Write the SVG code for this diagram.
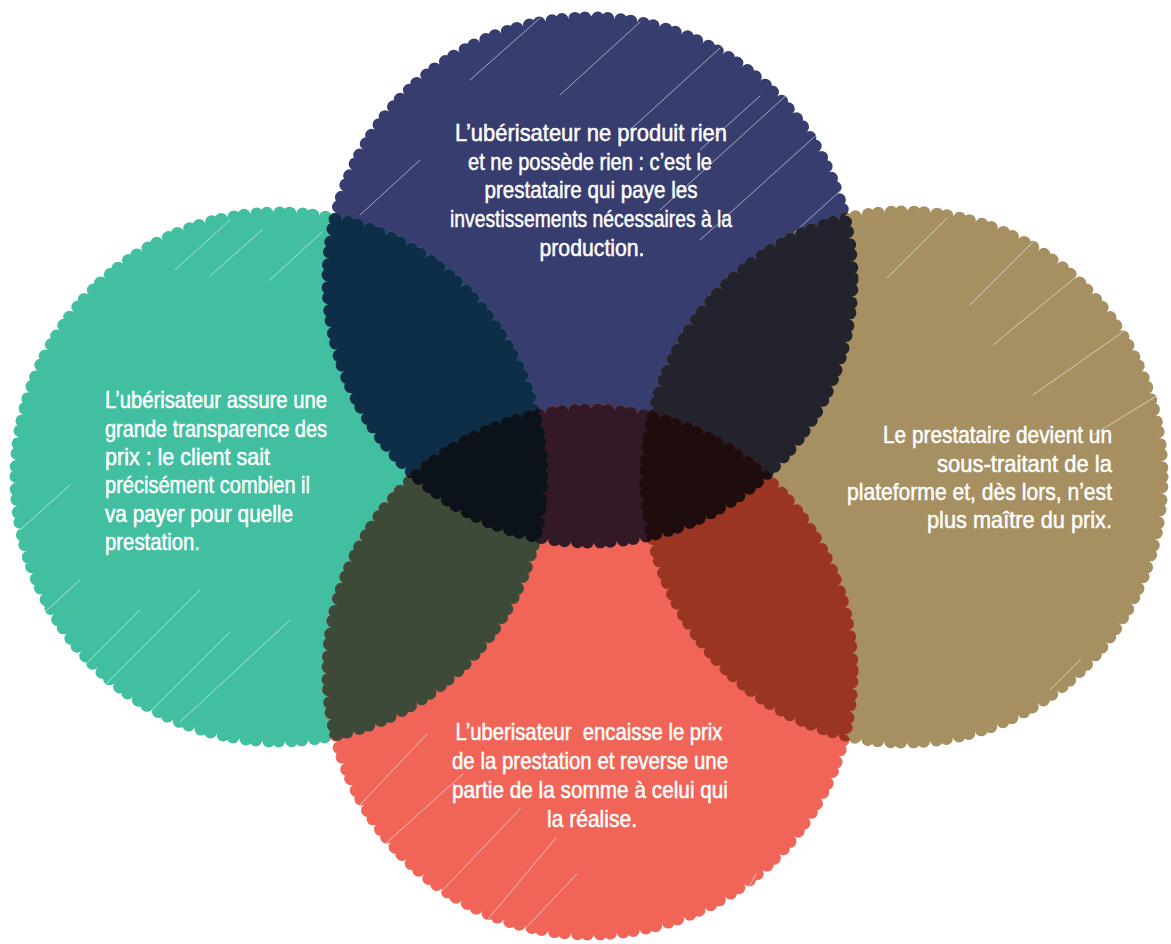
<svg xmlns="http://www.w3.org/2000/svg" width="1171" height="944" viewBox="0 0 1171 944">
<style>
.blob{stroke-width:13;stroke-dasharray:0 10 0 13;stroke-linecap:round}
.mk{fill:#fff;stroke:#fff}
.hl{stroke:#fff;stroke-width:1;stroke-linecap:round;opacity:0.55;fill:none}
.lbl{font-family:"Liberation Sans",Arial,sans-serif;font-size:24px;fill:#fff;stroke:#fff;stroke-width:0.5}
</style>
<defs>
<mask id="mT" maskUnits="userSpaceOnUse" x="0" y="0" width="1171" height="944"><circle class="mk blob" cx="590" cy="280" r="262"/></mask>
<mask id="mL" maskUnits="userSpaceOnUse" x="0" y="0" width="1171" height="944"><ellipse class="mk blob" cx="279" cy="477" rx="263" ry="264"/></mask>
<mask id="mR" maskUnits="userSpaceOnUse" x="0" y="0" width="1171" height="944"><ellipse class="mk blob" cx="904" cy="477" rx="258" ry="265"/></mask>
<mask id="mB" maskUnits="userSpaceOnUse" x="0" y="0" width="1171" height="944"><circle class="mk blob" cx="590" cy="672" r="262"/></mask>
</defs>

<g id="node-top">
<circle class="blob" cx="590" cy="280" r="262" fill="#383D6F" stroke="#383D6F"/>
<g class="hl">
<line x1="470" y1="80" x2="540" y2="18"/>
<line x1="560" y1="95" x2="640" y2="22"/>
<line x1="630" y1="130" x2="720" y2="48"/>
<line x1="660" y1="210" x2="790" y2="92"/>
<line x1="700" y1="240" x2="822" y2="130"/>
<line x1="720" y1="300" x2="850" y2="182"/>
<line x1="360" y1="215" x2="420" y2="160"/>
<line x1="700" y1="150" x2="760" y2="96"/>
</g>
</g>
<g id="node-left">
<ellipse class="blob" cx="279" cy="477" rx="263" ry="264" fill="#42BFA0" stroke="#42BFA0"/>
<g class="hl">
<line x1="20" y1="530" x2="70" y2="485"/>
<line x1="25" y1="630" x2="80" y2="580"/>
<line x1="50" y1="700" x2="140" y2="610"/>
<line x1="100" y1="690" x2="200" y2="590"/>
<line x1="140" y1="722" x2="230" y2="632"/>
<line x1="180" y1="722" x2="290" y2="620"/>
<line x1="175" y1="270" x2="230" y2="220"/>
<line x1="210" y1="276" x2="262" y2="230"/>
<line x1="270" y1="280" x2="322" y2="232"/>
</g>
</g>
<g id="node-right">
<ellipse class="blob" cx="904" cy="477" rx="258" ry="265" fill="#A68F61" stroke="#A68F61"/>
<g class="hl">
<line x1="887" y1="278" x2="947" y2="218"/>
<line x1="970" y1="305" x2="1033" y2="242"/>
<line x1="993" y1="345" x2="1087" y2="268"/>
<line x1="1033" y1="395" x2="1137" y2="322"/>
<line x1="1093" y1="435" x2="1163" y2="392"/>
<line x1="1050" y1="690" x2="1080" y2="660"/>
</g>
</g>
<g id="node-bottom">
<circle class="blob" cx="590" cy="672" r="262" fill="#F06557" stroke="#F06557"/>
<g class="hl">
<line x1="359" y1="806" x2="427" y2="734"/>
<line x1="384" y1="845" x2="463" y2="774"/>
<line x1="438" y1="895" x2="520" y2="809"/>
<line x1="484" y1="924" x2="556" y2="838"/>
<line x1="520" y1="934" x2="577" y2="874"/>
<line x1="738" y1="906" x2="756" y2="874"/>
</g>
</g>

<g id="overlaps">
<g id="overlap-top-left" mask="url(#mL)"><circle class="blob" cx="590" cy="280" r="262" fill="#0E2D46" stroke="#0E2D46"/></g>
<g id="overlap-top-right" mask="url(#mR)"><circle class="blob" cx="590" cy="280" r="262" fill="#23232D" stroke="#23232D"/></g>
<g id="overlap-bottom-left" mask="url(#mL)"><circle class="blob" cx="590" cy="672" r="262" fill="#3E4A38" stroke="#3E4A38"/></g>
<g id="overlap-bottom-right" mask="url(#mR)"><circle class="blob" cx="590" cy="672" r="262" fill="#9A3522" stroke="#9A3522"/></g>
<g id="overlap-top-bottom" mask="url(#mB)"><circle class="blob" cx="590" cy="280" r="262" fill="#331927" stroke="#331927"/></g>
<g id="overlap-top-bottom-left" mask="url(#mL)"><g mask="url(#mB)"><circle class="blob" cx="590" cy="280" r="262" fill="#0C1219" stroke="#0C1219"/></g></g>
<g id="overlap-top-bottom-right" mask="url(#mR)"><g mask="url(#mB)"><circle class="blob" cx="590" cy="280" r="262" fill="#1F0C0C" stroke="#1F0C0C"/></g></g>
</g>

<g id="label-top" class="lbl" text-anchor="middle">
<text x="591" y="141" textLength="272" lengthAdjust="spacingAndGlyphs">L’ubérisateur ne produit rien</text>
<text x="590" y="170" textLength="244" lengthAdjust="spacingAndGlyphs">et ne possède rien : c’est le</text>
<text x="591" y="198" textLength="213" lengthAdjust="spacingAndGlyphs">prestataire qui paye les</text>
<text x="591" y="227" textLength="282" lengthAdjust="spacingAndGlyphs">investissements nécessaires à la</text>
<text x="592" y="256" textLength="105" lengthAdjust="spacingAndGlyphs">production.</text>
</g>
<g id="label-left" class="lbl">
<text x="105" y="408" textLength="222" lengthAdjust="spacingAndGlyphs">L’ubérisateur assure une</text>
<text x="105" y="437" textLength="222" lengthAdjust="spacingAndGlyphs">grande transparence des</text>
<text x="105" y="465" textLength="165" lengthAdjust="spacingAndGlyphs">prix : le client sait</text>
<text x="105" y="493" textLength="205" lengthAdjust="spacingAndGlyphs">précisément combien il</text>
<text x="105" y="522" textLength="188" lengthAdjust="spacingAndGlyphs">va payer pour quelle</text>
<text x="105" y="550" textLength="95" lengthAdjust="spacingAndGlyphs">prestation.</text>
</g>
<g id="label-right" class="lbl" text-anchor="end">
<text x="1112" y="443" textLength="229" lengthAdjust="spacingAndGlyphs">Le prestataire devient un</text>
<text x="1112" y="472" textLength="175" lengthAdjust="spacingAndGlyphs">sous-traitant de la</text>
<text x="1112" y="500" textLength="265" lengthAdjust="spacingAndGlyphs">plateforme et, dès lors, n’est</text>
<text x="1112" y="528" textLength="185" lengthAdjust="spacingAndGlyphs">plus maître du prix.</text>
</g>
<g id="label-bottom" class="lbl" text-anchor="middle">
<text x="589" y="740" textLength="267" lengthAdjust="spacingAndGlyphs" style="white-space:pre">L’uberisateur  encaisse le prix</text>
<text x="590" y="769" textLength="276" lengthAdjust="spacingAndGlyphs">de la prestation et reverse une</text>
<text x="590" y="798" textLength="276" lengthAdjust="spacingAndGlyphs">partie de la somme à celui qui</text>
<text x="592" y="827" textLength="90" lengthAdjust="spacingAndGlyphs">la réalise.</text>
</g>
</svg>
